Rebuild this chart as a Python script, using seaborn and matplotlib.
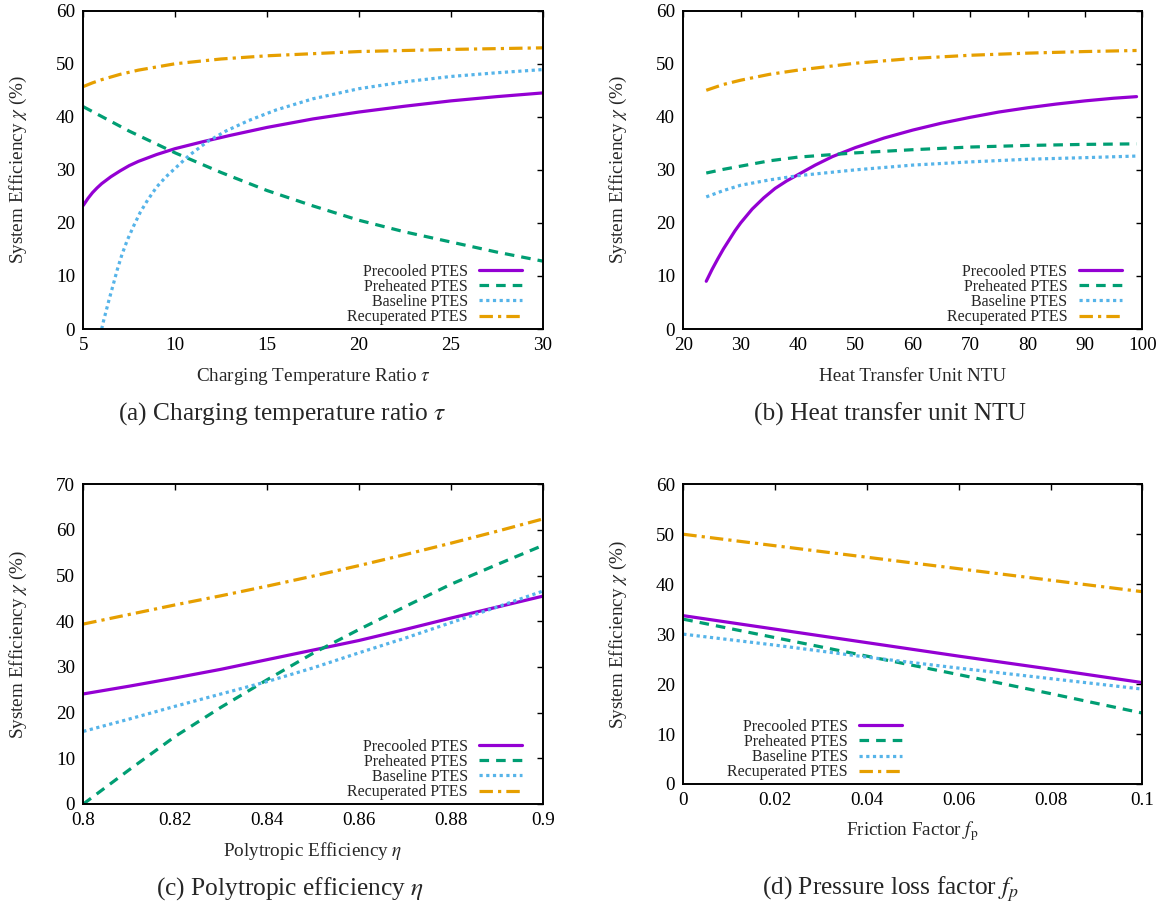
import matplotlib
matplotlib.use("Agg")
import matplotlib.pyplot as plt
import pandas as pd
import seaborn as sns

SERIES = ["Precooled PTES", "Preheated PTES", "Baseline PTES", "Recuperated PTES"]
COLORS = ["#9400D3", "#009E73", "#56B4E9", "#E69F00"]

# ---------- (a) charging temperature ratio ----------
A_PRECOOLED_X = [5.0, 5.25, 5.5, 5.75, 6.0, 6.5, 7.0, 7.5, 8.0, 9.0, 10.0, 11.5, 13.0, 15.0, 17.5, 20.0, 22.5, 25.0, 27.5, 30.0]
A_PRECOOLED_Y = [23.3, 24.6, 25.7, 26.6, 27.4, 28.7, 29.8, 30.8, 31.6, 32.9, 34.0, 35.3, 36.5, 38.0, 39.6, 40.9, 42.0, 43.0, 43.8, 44.5]
A_PREHEATED_X = [5.0, 7.5, 10.0, 12.5, 15.0, 17.5, 20.0, 22.5, 25.0, 27.5, 30.0]
A_PREHEATED_Y = [41.9, 37.3, 33.2, 29.5, 26.1, 23.2, 20.5, 18.3, 16.4, 14.5, 12.8]
A_BASELINE_X = [6.0, 6.1, 6.25, 6.4, 6.6, 6.85, 7.1, 7.4, 7.75, 8.1, 8.5, 9.0, 9.5, 10.0, 10.75, 11.75, 12.75, 14.0, 15.5, 17.5, 20.0, 22.5, 25.0, 27.5, 30.0]
A_BASELINE_Y = [0.0, 1.5, 3.5, 5.5, 8.0, 11.2, 14.0, 16.8, 19.5, 22.0, 24.3, 26.8, 28.7, 30.3, 32.7, 35.3, 37.3, 39.3, 41.3, 43.4, 45.3, 46.6, 47.6, 48.3, 48.9]
A_RECUP_X = [5.0, 5.5, 6.0, 7.0, 8.0, 10.0, 12.5, 15.0, 20.0, 25.0, 30.0]
A_RECUP_Y = [45.7, 46.4, 47.0, 48.0, 48.8, 50.0, 50.9, 51.5, 52.3, 52.7, 53.0]

# ---------- (b) heat transfer unit ----------
B_PRECOOLED_X = [24, 25, 26, 27, 28, 29, 30, 32, 34, 36, 38, 40, 43, 46, 50, 55, 60, 65, 70, 75, 80, 85, 90, 95, 99]
B_PRECOOLED_Y = [9.0, 11.2, 13.2, 15.1, 16.8, 18.5, 20.0, 22.6, 24.7, 26.5, 27.9, 29.1, 30.9, 32.5, 34.2, 36.0, 37.5, 38.8, 39.9, 40.9, 41.7, 42.4, 43.0, 43.5, 43.8]
B_PREHEATED_X = [24, 27, 30, 35, 40, 50, 60, 70, 80, 90, 99]
B_PREHEATED_Y = [29.4, 30.1, 30.7, 31.7, 32.4, 33.2, 33.8, 34.3, 34.6, 34.8, 34.9]
B_BASELINE_X = [24, 27, 30, 35, 40, 50, 60, 70, 80, 90, 99]
B_BASELINE_Y = [24.9, 26.1, 27.1, 28.1, 28.9, 30.0, 30.9, 31.5, 32.0, 32.3, 32.6]
B_RECUP_X = [24, 27, 30, 35, 40, 50, 60, 70, 80, 90, 99]
B_RECUP_Y = [45.0, 46.1, 46.9, 48.0, 48.8, 50.1, 51.0, 51.6, 52.0, 52.3, 52.5]

# ---------- (c) polytropic efficiency ----------
C_X = [0.80, 0.81, 0.82, 0.83, 0.84, 0.85, 0.86, 0.87, 0.88, 0.89, 0.90]
C_PRECOOLED_Y = [24.1, 25.8, 27.6, 29.5, 31.6, 33.7, 35.8, 38.2, 40.7, 43.1, 45.5]
C_PREHEATED_Y = [0.0, 7.5, 14.8, 21.2, 27.2, 33.0, 38.2, 43.2, 48.1, 52.4, 56.6]
C_BASELINE_Y = [15.9, 18.6, 21.4, 24.1, 26.8, 29.8, 33.1, 36.3, 39.7, 43.1, 46.6]
C_RECUP_Y = [39.4, 41.5, 43.6, 45.6, 47.7, 49.9, 52.2, 54.6, 57.1, 59.7, 62.4]

# ---------- (d) pressure loss factor ----------
D_X = [0.0, 0.02, 0.04, 0.06, 0.08, 0.10]
D_PRECOOLED_Y = [33.7, 31.0, 28.3, 25.6, 23.0, 20.3]
D_PREHEATED_Y = [33.0, 29.3, 25.6, 21.9, 18.1, 14.2]
D_BASELINE_Y = [30.0, 27.8, 25.4, 23.2, 21.1, 19.0]
D_RECUP_Y = [50.0, 47.7, 45.4, 43.1, 40.8, 38.5]

# tick labels
A_XTICKS = [5, 10, 15, 20, 25, 30]
B_XTICKS = [20, 30, 40, 50, 60, 70, 80, 90, 100]
C_XTICKS = [0.8, 0.82, 0.84, 0.86, 0.88, 0.9]
D_XTICKS = [0, 0.02, 0.04, 0.06, 0.08, 0.1]
Y60 = [0, 10, 20, 30, 40, 50, 60]
Y70 = [0, 10, 20, 30, 40, 50, 60, 70]

LINE_STYLES = {
    "Precooled PTES": "",
    "Preheated PTES": (3.0, 2.2),
    "Baseline PTES": (1.0, 1.1),
    "Recuperated PTES": (4.2, 1.6, 1.0, 1.6),
}


def frame(pairs):
    parts = []
    for name, (xs, ys) in zip(SERIES, pairs):
        parts.append(pd.DataFrame({"x": xs, "y": ys, "series": name}))
    return pd.concat(parts, ignore_index=True)


sns.set_theme(style="white")
plt.rcParams["font.family"] = ["Liberation Serif", "DejaVu Serif"]
plt.rcParams["mathtext.fontset"] = "stix"

W, H = 1166, 911
fig = plt.figure(figsize=(W / 100, H / 100), dpi=100)


def px_axes(x0, x1, y0, y1):
    return fig.add_axes([x0 / W, 1 - y1 / H, (x1 - x0) / W, (y1 - y0) / H])


panels = [
    dict(box=(83.3, 542.7, 10.7, 329.0),
         data=frame([(A_PRECOOLED_X, A_PRECOOLED_Y), (A_PREHEATED_X, A_PREHEATED_Y),
                     (A_BASELINE_X, A_BASELINE_Y), (A_RECUP_X, A_RECUP_Y)]),
         xlim=(5, 30), ylim=(0, 60), xticks=A_XTICKS, yticks=Y60,
         xlabels=[str(v) for v in A_XTICKS],
         xlabel=r"Charging Temperature Ratio $\tau$",
         leg=(0.955, 0.012),
         caption=r"(a) Charging temperature ratio $\tau$", cap=(282, 414)),
    dict(box=(683.3, 1142.3, 10.7, 329.0),
         data=frame([(B_PRECOOLED_X, B_PRECOOLED_Y), (B_PREHEATED_X, B_PREHEATED_Y),
                     (B_BASELINE_X, B_BASELINE_Y), (B_RECUP_X, B_RECUP_Y)]),
         xlim=(20, 100), ylim=(0, 60), xticks=B_XTICKS, yticks=Y60,
         xlabels=[str(v) for v in B_XTICKS],
         xlabel="Heat Transfer Unit NTU",
         leg=(0.955, 0.012),
         caption="(b) Heat transfer unit NTU", cap=(890, 414)),
    dict(box=(83.3, 542.7, 484.3, 804.0),
         data=frame([(C_X, C_PRECOOLED_Y), (C_X, C_PREHEATED_Y),
                     (C_X, C_BASELINE_Y), (C_X, C_RECUP_Y)]),
         xlim=(0.8, 0.9), ylim=(0, 70), xticks=C_XTICKS, yticks=Y70,
         xlabels=["0.8", "0.82", "0.84", "0.86", "0.88", "0.9"],
         xlabel=r"Polytropic Efficiency $\eta$",
         leg=(0.955, 0.012),
         caption=r"(c) Polytropic efficiency $\eta$", cap=(290, 889)),
    dict(box=(683.3, 1142.3, 484.3, 784.0),
         data=frame([(D_X, D_PRECOOLED_Y), (D_X, D_PREHEATED_Y),
                     (D_X, D_BASELINE_Y), (D_X, D_RECUP_Y)]),
         xlim=(0, 0.1), ylim=(0, 60), xticks=D_XTICKS, yticks=Y60,
         xlabels=["0", "0.02", "0.04", "0.06", "0.08", "0.1"],
         xlabel=r"Friction Factor $f_\mathrm{p}$",
         leg=(0.477, 0.012),
         caption=r"(d) Pressure loss factor $f_p$", cap=(891, 889)),
]

for p in panels:
    x0, x1, y0, y1 = p["box"]
    ax = px_axes(x0, x1, y0, y1)
    sns.lineplot(data=p["data"], x="x", y="y", hue="series", style="series",
                 hue_order=SERIES, style_order=SERIES, palette=COLORS,
                 dashes=LINE_STYLES, estimator=None, sort=False,
                 linewidth=2.3, ax=ax)
    ax.set_xlim(*p["xlim"])
    ax.set_ylim(*p["ylim"])
    ax.set_xticks(p["xticks"])
    ax.set_xticklabels(p["xlabels"])
    ax.set_yticks(p["yticks"])
    ax.set_yticklabels([str(v) for v in p["yticks"]])
    ax.tick_params(direction="in", length=4.5, width=1.0, top=True, right=True,
                   labelsize=13.8, pad=6, colors="black")
    for s in ax.spines.values():
        s.set_linewidth(1.4)
        s.set_color("black")
    h = y1 - y0
    w = x1 - x0
    ax.set_xlabel(p["xlabel"], fontsize=13.8, va="center")
    ax.xaxis.set_label_coords(0.5, -47.5 / h)
    ax.set_ylabel(r"System Efficiency $\chi$ (%)", fontsize=13.8, va="center")
    ax.yaxis.set_label_coords(-65.0 / w, 0.5)

    handles, labels = ax.get_legend_handles_labels()
    leg = ax.legend(handles, labels, loc="lower right", bbox_to_anchor=p["leg"],
                    markerfirst=False, frameon=False, fontsize=11.5,
                    handlelength=2.7, handletextpad=0.7, labelspacing=-0.05,
                    borderpad=0, borderaxespad=0)
    for line, name in zip(leg.get_lines(), SERIES):
        line.set_linewidth(2.3)
        d = LINE_STYLES[name]
        if d:
            line.set_dashes(d)

    fig.text(p["cap"][0] / W, 1 - p["cap"][1] / H, p["caption"],
             ha="center", va="center", fontsize=18.3)

fig.savefig("out.png", dpi=100, facecolor="white")
